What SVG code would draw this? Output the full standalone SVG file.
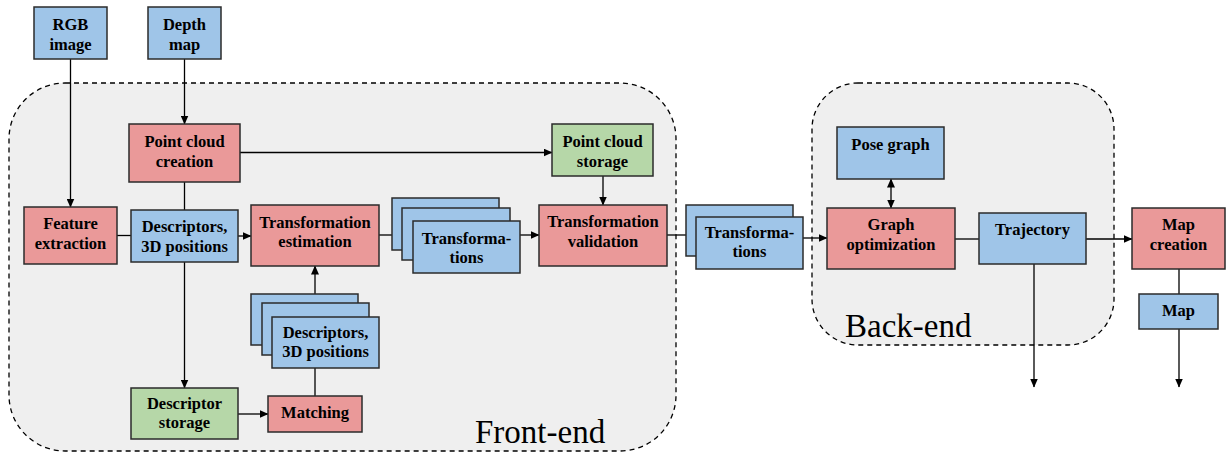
<svg xmlns="http://www.w3.org/2000/svg" width="1226" height="454" viewBox="0 0 1226 454">
<style>
.c{fill:#efefef;stroke:#000;stroke-width:1.3;stroke-dasharray:5,4}
.b{fill:#9fc5e8;stroke:#2b2b2b;stroke-width:1.5}
.r{fill:#ea9999;stroke:#2b2b2b;stroke-width:1.5}
.g{fill:#b6d7a8;stroke:#2b2b2b;stroke-width:1.5}
text{font-family:"Liberation Serif","Times New Roman",serif;font-weight:bold;font-size:16.5px;text-anchor:middle;fill:#000}
.big{font-weight:normal;font-size:33px;text-anchor:start}
.e{fill:none;stroke:#000;stroke-width:1.3}
</style>
<defs>
<marker id="a" markerWidth="9" markerHeight="8" refX="8.5" refY="4" orient="auto" markerUnits="userSpaceOnUse"><path d="M0,0 L9,4 L0,8 Z" fill="#000"/></marker>
<marker id="s" markerWidth="9" markerHeight="8" refX="0.5" refY="4" orient="auto" markerUnits="userSpaceOnUse"><path d="M9,0 L0,4 L9,8 Z" fill="#000"/></marker>
</defs>
<g id="frontend"><rect class="c" x="9" y="83" width="667" height="368" rx="56" ry="56"/><text class="big" x="475" y="443">Front-end</text></g>
<g id="backend"><rect class="c" x="812" y="83" width="302" height="262" rx="46" ry="46"/><text class="big" x="845" y="337">Back-end</text></g>
<g id="connectors">
<path class="e" d="M70.5,59 V207" marker-end="url(#a)"/>
<path class="e" d="M184.5,59 V124" marker-end="url(#a)"/>
<path class="e" d="M184.5,182 V210"/>
<path class="e" d="M117,235.5 H131"/>
<path class="e" d="M238,236 H251" marker-end="url(#a)"/>
<path class="e" d="M240,152.5 H552" marker-end="url(#a)"/>
<path class="e" d="M603,176 V205" marker-end="url(#a)"/>
<path class="e" d="M379,235 H392"/>
<path class="e" d="M520,235 H539" marker-end="url(#a)"/>
<path class="e" d="M667,235 H686"/>
<path class="e" d="M803,238 H827" marker-end="url(#a)"/>
<path class="e" d="M891,179 V208" marker-start="url(#s)" marker-end="url(#a)"/>
<path class="e" d="M955,239 H979"/>
<path class="e" d="M1086,239 H1132" marker-end="url(#a)"/>
<path class="e" d="M1179,269 V294"/>
<path class="e" d="M1179,329 V387" marker-end="url(#a)"/>
<path class="e" d="M1034,264 V387" marker-end="url(#a)"/>
<path class="e" d="M184.5,262 V388" marker-end="url(#a)"/>
<path class="e" d="M238,414 H268" marker-end="url(#a)"/>
<path class="e" d="M315,396 V368"/>
<path class="e" d="M315,294 V266" marker-end="url(#a)"/>
</g>
<g id="rgb"><rect class="b" x="34" y="7" width="73" height="52"/><text x="70.5" y="30">RGB</text><text x="70.5" y="50">image</text></g>
<g id="depth"><rect class="b" x="148" y="7" width="73" height="52"/><text x="184.5" y="30">Depth</text><text x="184.5" y="50">map</text></g>
<g id="pcc"><rect class="r" x="129" y="124" width="111" height="58"/><text x="184.5" y="147">Point cloud</text><text x="184.5" y="167">creation</text></g>
<g id="fe"><rect class="r" x="24" y="207" width="93" height="57"/><text x="70.5" y="229">Feature</text><text x="70.5" y="249">extraction</text></g>
<g id="desc"><rect class="b" x="131" y="210" width="107" height="52"/><text x="184.5" y="232">Descriptors,</text><text x="184.5" y="252">3D positions</text></g>
<g id="te"><rect class="r" x="251" y="205" width="128" height="61"/><text x="315" y="228">Transformation</text><text x="315" y="247">estimation</text></g>
<g id="pcs"><rect class="g" x="552" y="124" width="101" height="52"/><text x="602.5" y="147">Point cloud</text><text x="602.5" y="167">storage</text></g>
<g id="tv"><rect class="r" x="539" y="205" width="128" height="61"/><text x="603" y="227">Transformation</text><text x="603" y="247">validation</text></g>
<g id="trans1"><rect class="b" x="392" y="198" width="107" height="52"/><rect class="b" x="402" y="208" width="108" height="52"/><rect class="b" x="413" y="221" width="107" height="52"/><text x="466.5" y="244">Transforma-</text><text x="466.5" y="263">tions</text></g>
<g id="trans2"><rect class="b" x="686" y="205" width="107" height="51"/><rect class="b" x="696" y="217" width="107" height="52"/><text x="749.5" y="238">Transforma-</text><text x="749.5" y="257">tions</text></g>
<g id="pose"><rect class="b" x="837" y="127" width="107" height="52"/><text x="890.5" y="150">Pose graph</text></g>
<g id="go"><rect class="r" x="827" y="208" width="128" height="61"/><text x="891" y="230">Graph</text><text x="891" y="250">optimization</text></g>
<g id="traj"><rect class="b" x="979" y="213" width="107" height="51"/><text x="1032.5" y="235">Trajectory</text></g>
<g id="mc"><rect class="r" x="1132" y="208" width="93" height="61"/><text x="1178.5" y="230">Map</text><text x="1178.5" y="250">creation</text></g>
<g id="map"><rect class="b" x="1139" y="294" width="79" height="35"/><text x="1178.5" y="316">Map</text></g>
<g id="ds"><rect class="g" x="131" y="388" width="107" height="51"/><text x="184.5" y="409">Descriptor</text><text x="184.5" y="428">storage</text></g>
<g id="match"><rect class="r" x="268" y="396" width="94" height="36"/><text x="315" y="418">Matching</text></g>
<g id="desc2"><rect class="b" x="251" y="294" width="107" height="51"/><rect class="b" x="262" y="303" width="107" height="52"/><rect class="b" x="272" y="317" width="107" height="51"/><text x="325.5" y="338">Descriptors,</text><text x="325.5" y="357">3D positions</text></g>
</svg>
